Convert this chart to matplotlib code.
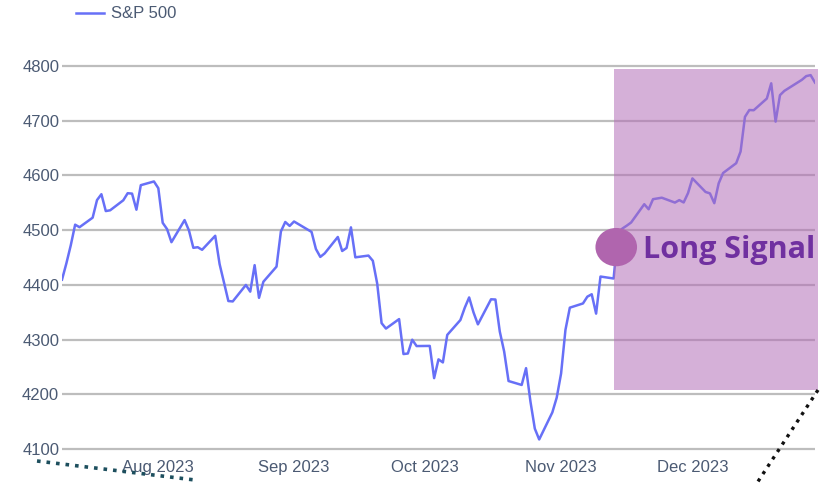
import pandas as pd
import matplotlib.pyplot as plt
import matplotlib.dates as mdates
from matplotlib.lines import Line2D
from matplotlib.patches import Rectangle, Ellipse

# trading days per month (2023)
month_days = {
    7: [10, 11, 12, 13, 14, 17, 18, 19, 20, 21, 24, 25, 26, 27, 28, 31],
    8: [1, 2, 3, 4, 7, 8, 9, 10, 11, 14, 15, 16, 17, 18, 21, 22, 23, 24, 25, 28, 29, 30, 31],
    9: [1, 5, 6, 7, 8, 11, 12, 13, 14, 15, 18, 19, 20, 21, 22, 25, 26, 27, 28, 29],
    10: [2, 3, 4, 5, 6, 9, 10, 11, 12, 13, 16, 17, 18, 19, 20, 23, 24, 25, 26, 27, 30, 31],
    11: [1, 2, 3, 6, 7, 8, 9, 10, 13, 14, 15, 16, 17, 20, 21, 22, 24, 27, 28, 29, 30],
    12: [1, 4, 5, 6, 7, 8, 11, 12, 13, 14, 15, 18, 19, 20, 21, 22, 26, 27, 28, 29],
}

sp500 = [
    4409.5, 4439.3, 4472.2, 4510.0, 4505.4, 4522.8, 4555.0, 4565.7, 4534.9, 4536.3,
    4554.6, 4567.5, 4566.8, 4537.4, 4582.2, 4589.0,
    4576.7, 4513.4, 4501.9, 4478.0, 4518.4, 4499.4, 4467.7, 4468.8, 4464.1, 4489.7,
    4437.9, 4404.3, 4370.4, 4369.7, 4399.8, 4387.6, 4436.0, 4376.3, 4405.7, 4433.3,
    4497.6, 4514.9, 4507.7,
    4515.8, 4496.8, 4465.5, 4451.1, 4457.5, 4487.5, 4461.9, 4467.4, 4505.1, 4450.3,
    4453.5, 4444.0, 4402.2, 4330.0, 4320.1, 4337.4, 4273.5, 4274.5, 4299.7, 4288.1,
    4288.4, 4229.5, 4263.8, 4258.2, 4308.5, 4335.7, 4358.2, 4377.0, 4349.6, 4327.8,
    4373.6, 4373.2, 4314.6, 4278.0, 4224.2, 4217.0, 4247.7, 4186.8, 4137.2, 4117.4,
    4166.8, 4193.8,
    4237.9, 4317.8, 4358.3, 4366.0, 4378.4, 4382.8, 4347.4, 4415.2, 4411.6, 4495.7,
    4502.9, 4508.2, 4514.0, 4547.4, 4538.2, 4556.6, 4559.3, 4550.4, 4554.9, 4550.6,
    4567.8,
    4594.6, 4569.8, 4567.2, 4549.3, 4585.6, 4604.4, 4622.4, 4643.7, 4707.1, 4719.6,
    4719.2, 4740.6, 4768.4, 4698.4, 4746.8, 4754.6, 4774.8, 4781.6, 4783.4, 4769.8,
]

month_ticks = ["2023-08-01", "2023-09-01", "2023-10-01", "2023-11-01", "2023-12-01"]
month_labels = ["Aug 2023", "Sep 2023", "Oct 2023", "Nov 2023", "Dec 2023"]
y_ticks = [4100, 4200, 4300, 4400, 4500, 4600, 4700, 4800]

dates = pd.to_datetime([f"2023-{m:02d}-{d:02d}" for m, days in month_days.items() for d in days])
xnum = mdates.date2num(dates)

text_color = "#4b5a73"
line_color = "#6770f7"

plt.rcParams["font.family"] = ["Liberation Sans", "DejaVu Sans"]

fig = plt.figure(figsize=(8.33, 4.83), dpi=100)
W, H = 833, 483
ax = fig.add_axes([62 / W, 1 - 451.7 / H, (815 - 62) / W, (451.7 - 63.3) / H])

ax.plot(xnum, sp500, color=line_color, lw=1.8, label="S&P 500", zorder=3)

ax.set_xlim(xnum[0], xnum[-1])
ax.set_ylim(4095, 4805)
ax.set_yticks(y_ticks)
ax.set_yticklabels([str(v) for v in y_ticks])
ax.set_xticks(mdates.date2num(pd.to_datetime(month_ticks)))
ax.set_xticklabels(month_labels)
ax.tick_params(length=0, labelsize=12, labelcolor=text_color)
ax.tick_params(axis="y", pad=2)
ax.tick_params(axis="x", pad=6)
ax.grid(axis="y", color="#bdbdbd", lw=1.6)
ax.grid(axis="x", visible=False)
ax.set_axisbelow(True)
for s in ax.spines.values():
    s.set_visible(False)

# long signal zone
x0 = mdates.date2num(pd.Timestamp("2023-11-13"))
x1 = mdates.date2num(pd.Timestamp("2023-12-29 16:00"))
ax.add_patch(Rectangle((x0, 4207), x1 - x0, 4794 - 4207, facecolor="#b36db7",
                       alpha=0.54, lw=0, zorder=4, clip_on=False))
ax.add_patch(Ellipse((x0 + 0.6, 4469), 9.5, 70,
                     facecolor="#b065ae", lw=0, zorder=5, clip_on=False))
ax.text(x0 + 6.6, 4463, "Long Signal", fontsize=22, fontweight="bold",
        family=["Open Sans", "DejaVu Sans"], color="#7030a0", va="center", ha="left", zorder=6)

ax.legend(loc="center left", bbox_to_anchor=(76 / W, 1 - 14 / H), bbox_transform=fig.transFigure,
          frameon=False, fontsize=12, labelcolor=text_color, handlelength=1.7,
          handletextpad=0.4, borderpad=0, borderaxespad=0)

# dotted pointer lines
fig.add_artist(Line2D([37 / W, 195 / W], [1 - 461 / H, 1 - 480 / H], transform=fig.transFigure,
                      ls=":", lw=2.6, color="#1d4f5e"))
fig.add_artist(Line2D([818 / W, 757 / W], [1 - 390 / H, 1 - 483 / H], transform=fig.transFigure,
                      ls=":", lw=2.4, color="#111111"))

fig.savefig("out.png", dpi=100)
